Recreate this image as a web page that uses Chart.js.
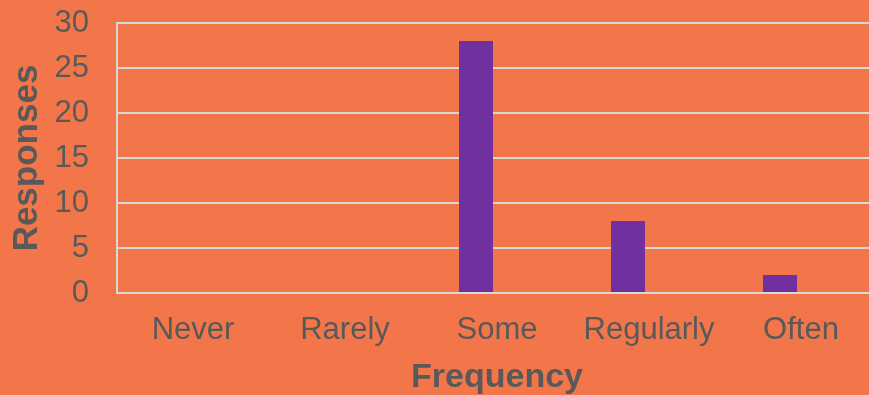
<!DOCTYPE html>
<html>
<head>
<meta charset="utf-8">
<script src="https://cdn.jsdelivr.net/npm/chart.js@4/dist/chart.umd.min.js"></script>
<style>
  html, body { margin: 0; padding: 0; background: #F3764A; overflow: hidden; }
  #wrap { width: 877px; height: 395px; position: relative; }
</style>
</head>
<body>
<div id="wrap"><canvas id="c"></canvas></div>
<script>
// Survey answers: how often respondents do it
const categories = ['Never', 'Rarely', 'Some', 'Regularly', 'Often'];
const responses = [0, 0, 28, 8, 2];
// second (empty) series keeps the bars in the left half of each category slot
const emptySeries = [null, null, null, null, null];
const yTicks = [0, 5, 10, 15, 20, 25, 30];

const BG = '#F3764A';
const TEXT = '#595959';
const GRID = '#D9D9D9';
const FONT = "'Liberation Sans', Arial, sans-serif";

const background = {
  id: 'background',
  beforeDraw(chart) {
    const ctx = chart.ctx;
    ctx.save();
    ctx.fillStyle = BG;
    ctx.fillRect(0, 0, chart.width, chart.height);
    ctx.restore();
  }
};

new Chart(document.getElementById('c'), {
  type: 'bar',
  data: {
    labels: categories,
    datasets: [
      { label: 'Responses', data: responses, backgroundColor: '#7030A0', borderWidth: 0,
        categoryPercentage: 0.5526, barPercentage: 0.81 },
      { label: '', data: emptySeries, backgroundColor: '#7030A0', borderWidth: 0,
        categoryPercentage: 0.5526, barPercentage: 0.81 }
    ]
  },
  options: {
    responsive: true,
    maintainAspectRatio: false,
    animation: false,
    devicePixelRatio: 1,
    layout: { padding: { top: 23, right: 0, bottom: 0, left: 0 } },
    plugins: { legend: { display: false }, tooltip: { enabled: false } },
    scales: {
      x: {
        grid: { display: false, drawTicks: false },
        border: { display: false },
        ticks: { color: TEXT, font: { family: FONT, size: 31 }, padding: 19, maxRotation: 0 },
        title: { display: true, text: 'Frequency', color: TEXT,
                 font: { family: FONT, size: 34, weight: 'bold', lineHeight: 1.0 },
                 padding: { top: 0, bottom: 0 } },
        afterFit(scale) { scale.height = 102; scale.paddingLeft = 0; scale.paddingRight = 0; }
      },
      y: {
        min: 0, max: 30,
        afterBuildTicks(scale) { scale.ticks = yTicks.map(v => ({ value: v })); },
        grid: { color: GRID, lineWidth: 2, drawTicks: false },
        border: { display: true, color: GRID, width: 2 },
        ticks: { color: TEXT, font: { family: FONT, size: 31 }, padding: 28 },
        title: { display: true, text: 'Responses', color: TEXT,
                 font: { family: FONT, size: 35, weight: 'bold', lineHeight: 1.0 },
                 padding: { top: 10, bottom: 0 } },
        afterFit(scale) { scale.width = 117; scale.paddingTop = 0; scale.paddingBottom = 0; }
      }
    }
  },
  plugins: [background]
});
</script>
</body>
</html>
